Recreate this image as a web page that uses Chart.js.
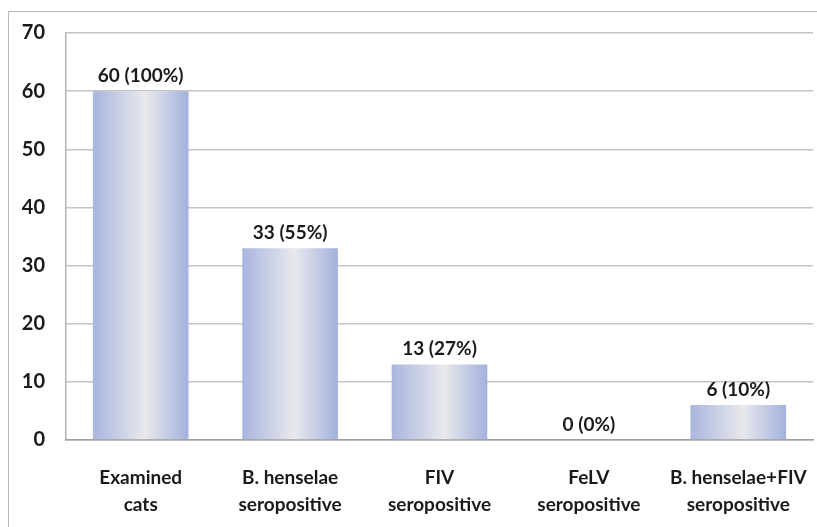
<!DOCTYPE html>
<html>
<head>
<meta charset="utf-8">
<script src="https://cdn.jsdelivr.net/npm/chart.js@4.4.0/dist/chart.umd.min.js"></script>
<style>
  html, body { margin: 0; padding: 0; background: #fff; overflow: hidden; }
  #frame { position: absolute; left: 8px; top: 11px; width: 830px; height: 540px; border: 1px solid #b8b8b8; }
  #wrap { position: absolute; left: 0; top: 0; width: 817px; height: 527px; }
</style>
</head>
<body>
<div id="frame"></div>
<div id="wrap"><canvas id="chart" width="817" height="527"></canvas></div>
<script>
// Data
const categories = [
    ['Examined', 'cats'],
    ['B. henselae', 'seropositive'],
    ['FIV', 'seropositive'],
    ['FeLV', 'seropositive'],
    ['B. henselae+FIV', 'seropositive']
];
const counts = [60, 33, 13, 0, 6];
const percents = [100, 55, 27, 0, 10];
const yTicks = [0, 10, 20, 30, 40, 50, 60, 70];

const FONT = 'Lato, "Open Sans", sans-serif';
const CAT_PCT = 0.64;

function barGradient(context) {
    const chart = context.chart;
    const xs = chart.scales && chart.scales.x;
    if (!xs || !chart.chartArea) return '#b8c3e4';
    const cx = xs.getPixelForValue(context.dataIndex);
    const half = (xs.width / categories.length) * CAT_PCT / 2;
    if (!isFinite(cx) || !isFinite(half)) return '#b8c3e4';
    const g = chart.ctx.createLinearGradient(cx - half, 0, cx + half, 0);
    g.addColorStop(0, '#a8b5df');
    g.addColorStop(0.55, '#e9e9ec');
    g.addColorStop(1, '#a2b1dd');
    return g;
}

const valueLabels = {
    id: 'valueLabels',
    afterDatasetsDraw(chart) {
        const ctx = chart.ctx;
        const meta = chart.getDatasetMeta(0);
        ctx.save();
        ctx.font = 'bold 19px ' + FONT;
        ctx.fillStyle = '#1a1a1a';
        ctx.textAlign = 'center';
        ctx.textBaseline = 'bottom';
        meta.data.forEach((bar, i) => {
            ctx.fillText(counts[i] + ' (' + percents[i] + '%)', bar.x, bar.y - 6);
        });
        ctx.restore();
    }
};

new Chart(document.getElementById('chart'), {
    type: 'bar',
    data: {
        labels: categories,
        datasets: [{
            data: counts,
            backgroundColor: barGradient,
            borderWidth: 0,
            categoryPercentage: CAT_PCT,
            barPercentage: 1.0
        }]
    },
    options: {
        responsive: false,
        animation: false,
        devicePixelRatio: 1,
        layout: { padding: { left: 8, right: 4, top: 26, bottom: 0 } },
        plugins: { legend: { display: false }, tooltip: { enabled: false } },
        scales: {
            y: {
                min: 0,
                max: 70,
                afterFit(scale) { scale.width = 58; },
                afterBuildTicks(scale) { scale.ticks = yTicks.map(v => ({ value: v })); },
                ticks: {
                    font: { family: FONT, size: 20, weight: 'bold' },
                    color: '#1a1a1a',
                    padding: 21
                },
                grid: { color: '#c4c4c4', lineWidth: 1.5, drawTicks: false },
                border: { display: true, color: '#b0b0b0', width: 1.5 }
            },
            x: {
                afterFit(scale) {
                    scale.height = 87;
                    scale.paddingLeft = 0;
                    scale.paddingRight = 0;
                },
                ticks: {
                    font: { family: FONT, size: 19, weight: 'bold', lineHeight: 1.42 },
                    color: '#1a1a1a',
                    padding: 16,
                    maxRotation: 0
                },
                grid: { display: false },
                border: { display: true, color: '#a0a0a0', width: 1.5 }
            }
        }
    },
    plugins: [valueLabels]
});
</script>
</body>
</html>
